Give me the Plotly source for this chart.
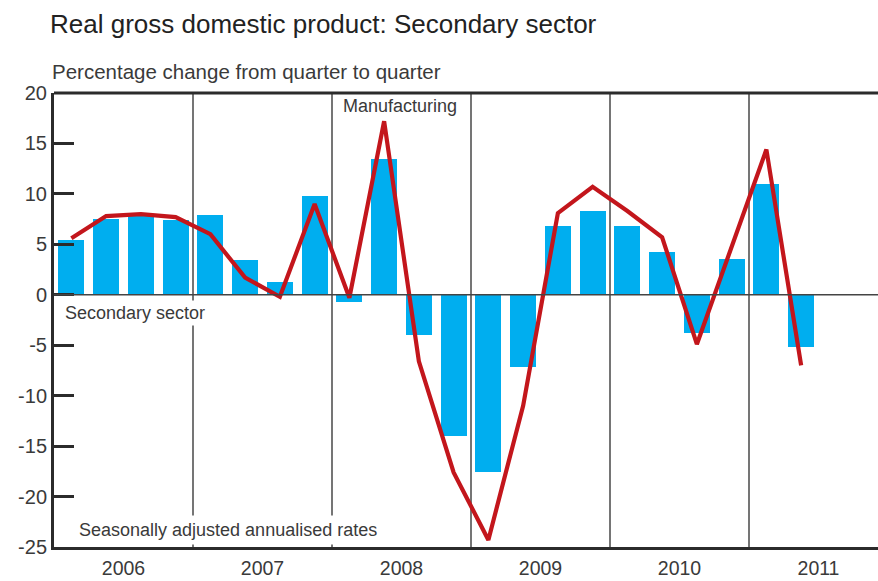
import plotly.graph_objects as go

# ---- data ----
years = ["2006", "2007", "2008", "2009", "2010", "2011"]
quarters = [f"{y}Q{q}" for y in years for q in range(1, 5)][:22]
secondary = [5.4, 7.5, 7.9, 7.4, 7.9, 3.4, 1.3, 9.8,
             -0.7, 13.5, -4.0, -14.0, -17.6, -7.2, 6.8, 8.3,
             6.8, 4.2, -3.8, 3.5, 11.0, -5.2]
manufacturing = [5.6, 7.8, 8.0, 7.7, 6.0, 1.7, -0.2, 9.0,
                 -0.3, 17.2, -6.6, -17.6, -24.3, -11.0, 8.1, 10.7,
                 8.3, 5.7, -4.9, 4.7, 14.4, -7.0]
ytick_vals = [20, 15, 10, 5, 0, -5, -10, -15, -20, -25]

# ---- geometry ----
W, H = 878, 581
L, R, T, B = 54, 0, 93, 34
pw, ph = W - L - R, H - T - B
qpx = 139 / 4.0  # pixels per quarter in the reference
xmax = pw / qpx

xpos = [i + 0.5 for i in range(len(quarters))]
FONT = "Liberation Sans, Arial, sans-serif"
TXT = "#3a3a3a"
DARK = "#2b2b2b"


def px_x(p):
    return (p - L) / pw


def px_y(p):
    return (T + ph - p) / ph


fig = go.Figure()
fig.add_trace(go.Bar(x=xpos, y=secondary, width=0.75, marker_color="#00AEEF",
                     marker_line_width=0, name="Secondary sector", hoverinfo="y"))
fig.add_trace(go.Scatter(x=xpos, y=manufacturing, mode="lines",
                         line=dict(color="#C3161C", width=4.2),
                         name="Manufacturing", hoverinfo="y"))

shapes = []
# year dividers
for k in range(1, len(years)):
    shapes.append(dict(type="line", xref="x", yref="paper", x0=4 * k, x1=4 * k,
                       y0=0, y1=1, line=dict(color=DARK, width=1.3), layer="below"))
# zero line
shapes.append(dict(type="line", xref="paper", yref="y", x0=0, x1=1, y0=0, y1=0,
                   line=dict(color="#444444", width=1.5), layer="above"))
# top frame
shapes.append(dict(type="line", xref="paper", yref="paper", x0=0, x1=1, y0=1, y1=1,
                   line=dict(color=DARK, width=3), layer="above"))

annotations = [
    dict(text="Percentage change from quarter to quarter", xref="paper", yref="paper",
         x=px_x(50), y=px_y(72), xanchor="left", yanchor="middle", showarrow=False,
         font=dict(size=20.5, color=TXT, family=FONT)),
    dict(text="Manufacturing", xref="paper", yref="paper",
         x=px_x(341), y=px_y(106), xanchor="left", yanchor="middle", showarrow=False,
         font=dict(size=18, color=TXT, family=FONT)),
    dict(text="Secondary sector", xref="paper", yref="paper",
         x=px_x(62), y=px_y(313), xanchor="left", yanchor="middle", showarrow=False,
         bgcolor="white", borderpad=2,
         font=dict(size=18, color=TXT, family=FONT)),
    dict(text="Seasonally adjusted annualised rates", xref="paper", yref="paper",
         x=px_x(74), y=px_y(530), xanchor="left", yanchor="middle", showarrow=False,
         bgcolor="white", borderpad=4,
         font=dict(size=18, color=TXT, family=FONT)),
]

fig.update_layout(
    width=W, height=H,
    margin=dict(l=L, r=R, t=T, b=B, pad=0, autoexpand=False),
    paper_bgcolor="white", plot_bgcolor="white",
    showlegend=False,
    bargap=0,
    title=dict(text="Real gross domestic product: Secondary sector",
               xref="container", yref="container", x=50 / W, y=1 - 24 / H,
               xanchor="left", yanchor="middle",
               font=dict(size=26, color="#222222", family=FONT)),
    shapes=shapes,
    annotations=annotations,
    font=dict(family=FONT, color=TXT),
)
fig.update_xaxes(
    range=[0, xmax],
    tickvals=[4 * k + 2 for k in range(len(years))],
    ticktext=years,
    ticks="outside", ticklen=2, tickcolor="rgba(0,0,0,0)",
    showgrid=False, zeroline=False, automargin=False,
    showline=True, linecolor=DARK, linewidth=3,
    tickfont=dict(size=19.5, color=TXT, family=FONT),
)
fig.update_yaxes(
    range=[-25, 20],
    tickvals=ytick_vals,
    ticktext=[str(v) for v in ytick_vals],
    ticks="inside", ticklen=20, tickwidth=3, tickcolor=DARK,
    showgrid=False, zeroline=False, automargin=False,
    showline=True, linecolor=DARK, linewidth=3,
    tickfont=dict(size=20, color=TXT, family=FONT),
)

fig.write_html("out.html", config={"displayModeBar": False},
               post_script="document.body.style.margin='0';document.body.style.overflow='hidden';")
